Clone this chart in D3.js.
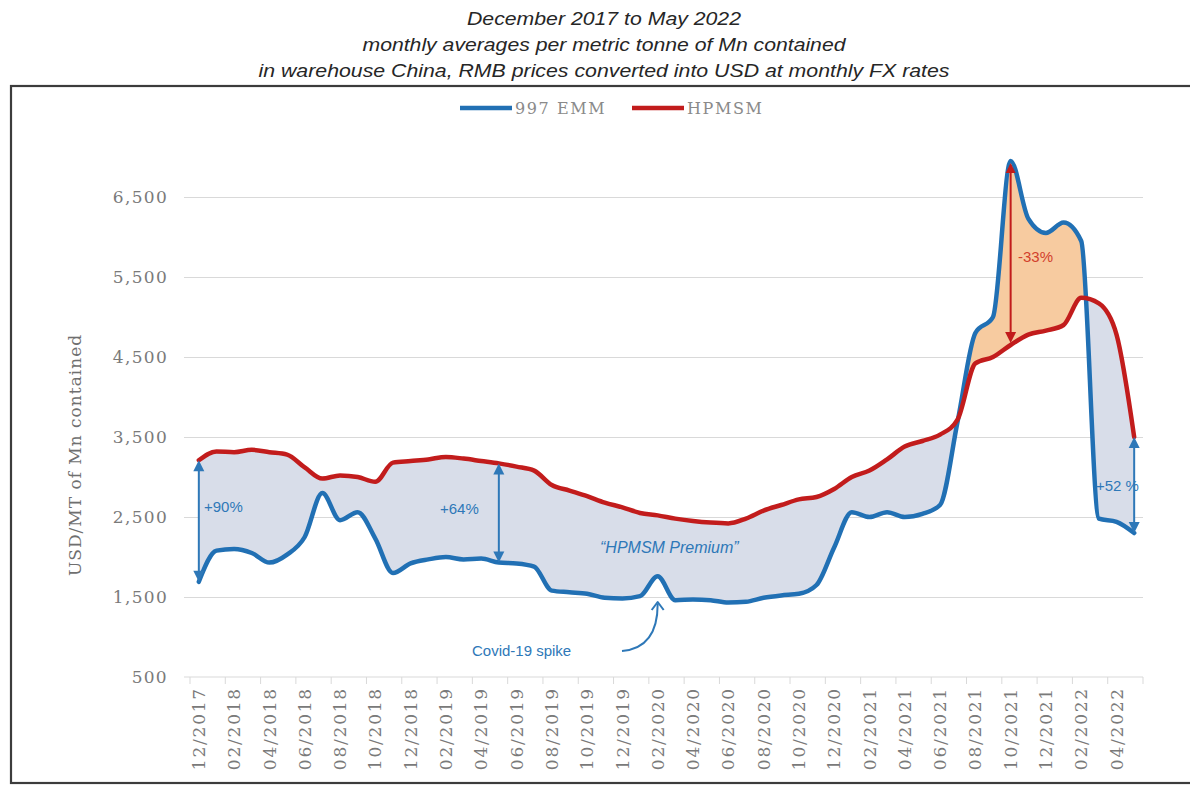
<!DOCTYPE html>
<html>
<head>
<meta charset="utf-8">
<script src="https://cdn.jsdelivr.net/npm/d3@7"></script>
<style>
  html, body { margin: 0; padding: 0; background: #fff; }
  svg { display: block; }
</style>
</head>
<body>
<svg id="chart" width="1190" height="787"></svg>
<script>
// ---------- DATA ----------
const months = [
  "12/2017","01/2018","02/2018","03/2018","04/2018","05/2018","06/2018","07/2018","08/2018","09/2018","10/2018","11/2018",
  "12/2018","01/2019","02/2019","03/2019","04/2019","05/2019","06/2019","07/2019","08/2019","09/2019","10/2019","11/2019",
  "12/2019","01/2020","02/2020","03/2020","04/2020","05/2020","06/2020","07/2020","08/2020","09/2020","10/2020","11/2020",
  "12/2020","01/2021","02/2021","03/2021","04/2021","05/2021","06/2021","07/2021","08/2021","09/2021","10/2021","11/2021",
  "12/2021","01/2022","02/2022","03/2022","04/2022","05/2022"
];
const emm997 = [
  1690, 2080, 2100, 2050, 1930, 2030, 2250, 2800, 2460, 2560, 2230, 1800,
  1920, 1970, 2000, 1970, 1980, 1930, 1920, 1880, 1580, 1560, 1540, 1490,
  1480, 1510, 1760, 1460, 1470, 1460, 1430, 1440, 1490, 1520, 1540, 1650,
  2120, 2560, 2500, 2560, 2500, 2540, 2650, 3700, 4800, 5000, 6950, 6230,
  6050, 6180, 5950, 2480, 2440, 2300
];
const hpmsm = [
  3210, 3320, 3310, 3340, 3310, 3280, 3120, 2980, 3020, 3000, 2940, 3180,
  3200, 3220, 3250, 3230, 3200, 3170, 3130, 3080, 2900, 2830, 2760, 2680,
  2620, 2550, 2520, 2480, 2450, 2430, 2420, 2480, 2580, 2650, 2720, 2750,
  2850, 3000, 3080, 3220, 3380, 3450, 3530, 3720, 4420, 4500, 4650, 4780,
  4830, 4900, 5240, 5170, 4780, 3500
];
const yTicks = [500, 1500, 2500, 3500, 4500, 5500, 6500];
const titleLines = [
  "December 2017 to May 2022",
  "monthly averages per metric tonne of Mn contained",
  "in warehouse China, RMB prices converted into USD at monthly FX rates"
];
const seriesNames = ["997 EMM", "HPMSM"];
const annotations = [
  { idx: 0,  text: "+90%" },
  { idx: 17, text: "+64%" },
  { idx: 46, text: "-33%" },
  { idx: 53, text: "+52 %" }
];

// ---------- STYLE ----------
const BLUE = "#2170b4", RED = "#c21c1c", ABLUE = "#2e78b8";
const FILL_PREM = "#d8dde9", FILL_OR = "#f7cba0";
const serif = "'DejaVu Serif', serif";
const sans = "'Liberation Sans', Arial, sans-serif";

const svg = d3.select("#chart");
const L = 190, R = 1143, T = 130, B = 677;

const x = d3.scaleBand().domain(months).range([L, R]).padding(0);
const bw = x.bandwidth();
const cx = d => x(d) + bw / 2;
const y = d3.scaleLinear().domain([500, 7300]).range([B, B - 6800 * 0.08]);

const data = months.map((m, i) => ({ m, e: emm997[i], h: hpmsm[i] }));

// frame
svg.append("rect").attr("x", 11).attr("y", 86).attr("width", 1195).attr("height", 697)
  .attr("fill", "none").attr("stroke", "#3c3c3c").attr("stroke-width", 2.2);

// title
const titleLen = [274, 483, 691];
svg.append("g").selectAll("text").data(titleLines).join("text")
  .attr("x", 604).attr("y", (d, i) => 25 + i * 26)
  .attr("text-anchor", "middle")
  .attr("textLength", (d, i) => titleLen[i]).attr("lengthAdjust", "spacingAndGlyphs")
  .attr("font-family", sans).attr("font-style", "italic").attr("font-size", 18)
  .attr("fill", "#262626").text(d => d);

// gridlines + y axis
const yAxis = d3.axisLeft(y).tickValues(yTicks).tickSize(-(R - L) - 6).tickFormat(d3.format(","));
const gy = svg.append("g").attr("transform", `translate(${L - 6},0)`).call(yAxis);
gy.select(".domain").remove();
gy.selectAll(".tick line").attr("stroke", "#d9d9d9").attr("stroke-width", 1);
gy.selectAll(".tick text").attr("x", -16).attr("fill", "#7a7a7a")
  .attr("font-family", serif).attr("font-size", 17).style("letter-spacing", "1.3px");
gy.selectAll(".tick").filter(d => d === 500).select("line").remove();

// y title
svg.append("text").attr("transform", `translate(81,455) rotate(-90)`)
  .attr("text-anchor", "middle").attr("font-family", serif).attr("font-size", 17)
  .style("letter-spacing", "1px").attr("fill", "#6f6f6f").text("USD/MT of Mn contained");

// x axis
const xAxis = d3.axisBottom(x).tickValues(months.filter((d, i) => i % 2 === 0)).tickSize(7);
const gx = svg.append("g").attr("transform", `translate(0,${B})`).call(xAxis);
gx.select(".domain").attr("stroke", "#d9d9d9").attr("d", `M${L - 6},0H${R}`);
gx.selectAll(".tick line").attr("x1", -bw / 2).attr("x2", -bw / 2).attr("stroke", "#d9d9d9");
gx.append("line").attr("x1", R).attr("x2", R).attr("y1", 0).attr("y2", 7).attr("stroke", "#d9d9d9");
gx.selectAll(".tick text").attr("transform", "rotate(-90)").attr("x", -10).attr("y", 0)
  .attr("dy", "0.36em").style("text-anchor", "end").attr("fill", "#7a7a7a")
  .attr("font-family", serif).attr("font-size", 17).style("letter-spacing", "1.8px");

// fills between lines
const curve = d3.curveMonotoneX;
const defs = svg.append("defs");
defs.append("clipPath").attr("id", "below").append("path")
  .attr("d", d3.area().x(d => cx(d.m)).y0(800).y1(d => y(d.h)).curve(curve)(data));
defs.append("clipPath").attr("id", "above").append("path")
  .attr("d", d3.area().x(d => cx(d.m)).y0(0).y1(d => y(d.h)).curve(curve)(data));
const between = d3.area().x(d => cx(d.m)).y0(d => y(d.e)).y1(d => y(d.h)).curve(curve);
svg.append("path").attr("d", between(data)).attr("fill", FILL_PREM).attr("clip-path", "url(#below)");
svg.append("path").attr("d", between(data)).attr("fill", FILL_OR).attr("clip-path", "url(#above)");

// lines
const lineE = d3.line().x(d => cx(d.m)).y(d => y(d.e)).curve(curve);
const lineH = d3.line().x(d => cx(d.m)).y(d => y(d.h)).curve(curve);
svg.append("path").attr("d", lineE(data)).attr("fill", "none").attr("stroke", BLUE)
  .attr("stroke-width", 4.5).attr("stroke-linejoin", "round").attr("stroke-linecap", "round");
svg.append("path").attr("d", lineH(data)).attr("fill", "none").attr("stroke", RED)
  .attr("stroke-width", 4.5).attr("stroke-linejoin", "round").attr("stroke-linecap", "round");

// legend
const lg = svg.append("g");
[[460, 512, BLUE, 515, seriesNames[0]], [632, 684, RED, 687, seriesNames[1]]].forEach(([a, b, c, tx, t]) => {
  lg.append("line").attr("x1", a).attr("x2", b).attr("y1", 108).attr("y2", 108)
    .attr("stroke", c).attr("stroke-width", 4.5);
  lg.append("text").attr("x", tx).attr("y", 114).attr("font-family", serif).attr("font-size", 16)
    .style("letter-spacing", "1.6px").attr("fill", "#8a8a8a").text(t);
});

// arrows
function arrowhead(g, xx, yy, dir, color) {
  g.append("path").attr("d", `M${xx},${yy} L${xx - 5.5},${yy - dir * 11} L${xx + 5.5},${yy - dir * 11} Z`)
    .attr("fill", color);
}
function dblArrow(i, color) {
  const g = svg.append("g");
  const xx = cx(months[i]);
  const y1 = y(hpmsm[i]), y2 = y(emm997[i]);
  g.append("line").attr("x1", xx).attr("x2", xx).attr("y1", y1 + 6).attr("y2", y2 - 6)
    .attr("stroke", color).attr("stroke-width", 2);
  arrowhead(g, xx, y1, -1, color);
  arrowhead(g, xx, y2, 1, color);
}
dblArrow(annotations[0].idx, ABLUE);
dblArrow(annotations[1].idx, ABLUE);
dblArrow(annotations[3].idx, ABLUE);
{
  const i = annotations[2].idx, xx = cx(months[i]);
  const g = svg.append("g");
  g.append("line").attr("x1", xx).attr("x2", xx).attr("y1", y(emm997[i]) + 4).attr("y2", y(hpmsm[i]) - 8)
    .attr("stroke", RED).attr("stroke-width", 2);
  arrowhead(g, xx, y(hpmsm[i]) - 2, 1, RED);
  g.append("path").attr("d", `M${xx},${y(emm997[i]) + 2} L${xx - 5},${y(emm997[i]) + 12} L${xx + 5},${y(emm997[i]) + 12} Z`)
    .attr("fill", RED);
}

// annotation texts
const at = (tx, ty, t, color, italic) => svg.append("text").attr("x", tx).attr("y", ty)
  .attr("font-family", sans).attr("font-size", 15).attr("fill", color)
  .attr("font-style", italic ? "italic" : "normal").text(t);
at(204, 512, annotations[0].text, ABLUE);
at(440, 514, annotations[1].text, ABLUE);
at(1018, 262, annotations[2].text, "#d2402c");
at(1096, 491, annotations[3].text, ABLUE);
at(600, 553, "\u201CHPMSM Premium\u201D", ABLUE, true).attr("font-size", 16);
at(472, 656, "Covid-19 spike", ABLUE);

// covid arrow
{
  const xx = cx(months[26]);
  svg.append("path").attr("d", `M622,651 Q${xx},648 ${xx},604`).attr("fill", "none")
    .attr("stroke", ABLUE).attr("stroke-width", 2);
  svg.append("path").attr("d", `M${xx - 6},${610} L${xx},${602} L${xx + 6},${610}`).attr("fill", "none")
    .attr("stroke", ABLUE).attr("stroke-width", 2).attr("stroke-linejoin", "round");
}
</script>
</body>
</html>
